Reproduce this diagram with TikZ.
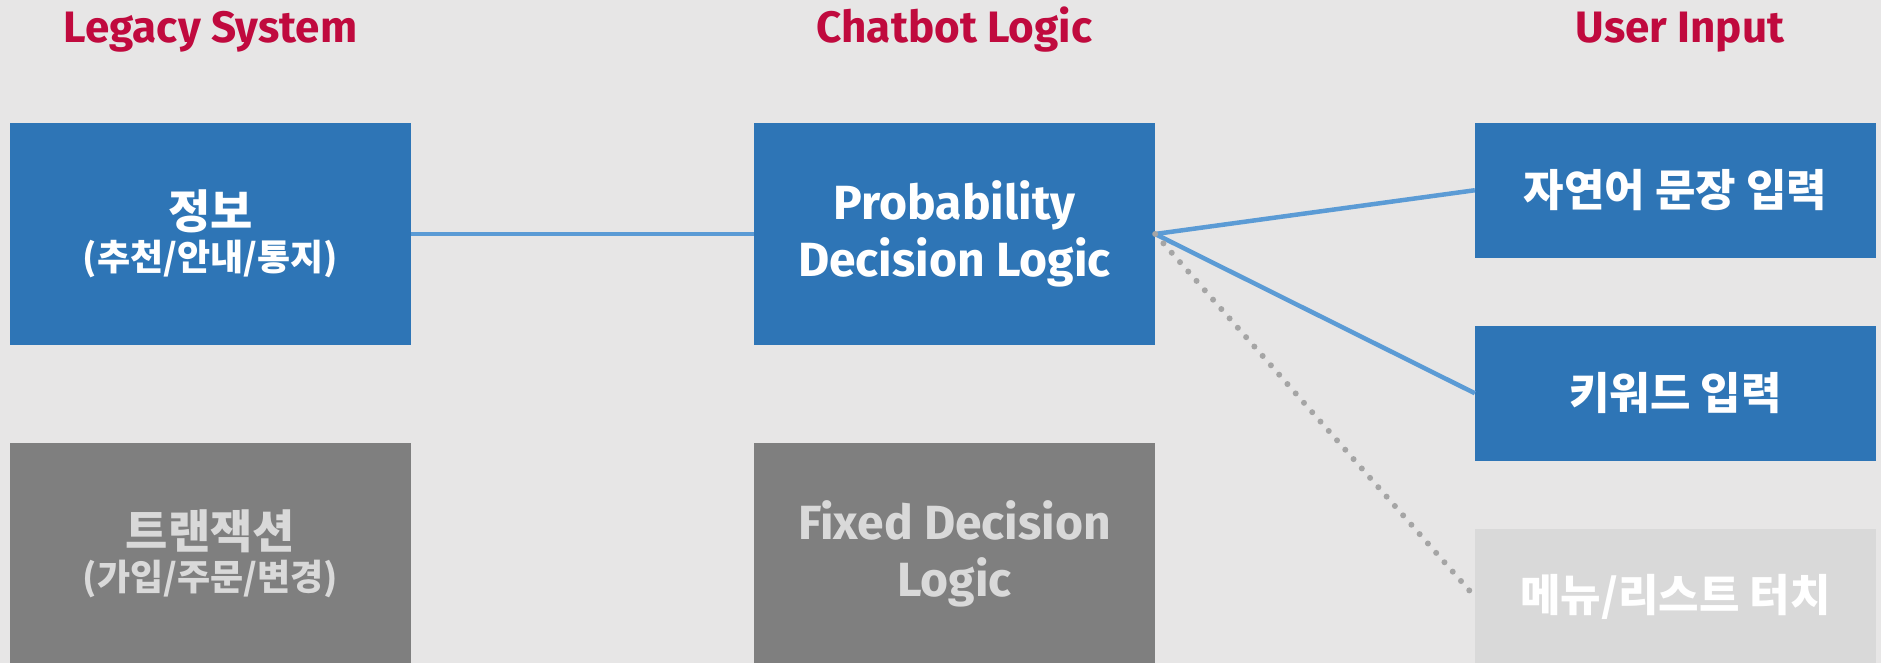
\documentclass[tikz,border=0pt]{standalone}
\usepackage{fontspec}
\setmainfont{Fira Sans}
\newfontfamily\kr{Noto Sans CJK KR}
\definecolor{bg}{HTML}{E7E6E6}
\definecolor{boxblue}{HTML}{2E75B6}
\definecolor{boxgray}{HTML}{7F7F7F}
\definecolor{boxlight}{HTML}{D9D9D9}
\definecolor{txtgray}{HTML}{D9D9D9}
\definecolor{lineblue}{HTML}{5B9BD5}
\definecolor{dotgray}{HTML}{A5A5A5}
\definecolor{titlered}{HTML}{C00A3E}
\begin{document}
\begin{tikzpicture}[x=1pt,y=-1pt,
  title/.style={anchor=base,text=titlered,font=\fontsize{44}{50}\selectfont\bfseries},
  bigbox/.style={minimum width=401pt,minimum height=221.6pt,inner sep=0pt,align=center},
  smallbox/.style={minimum width=401pt,minimum height=134.5pt,inner sep=0pt,align=center},
  active/.style={fill=boxblue,text=white},
  inactive/.style={fill=boxgray,text=txtgray},
  faded/.style={fill=boxlight,text=white},
  entxt/.style={font=\fontsize{48}{57}\selectfont\bfseries},
  krtxt/.style={font=\kr\fontsize{44}{48}\selectfont\bfseries},
  conn/.style={draw=lineblue,line width=4.5pt},
  dotconn/.style={draw=dotgray,line width=6pt,line cap=round,dash pattern=on 0pt off 12.5pt}]
\fill[bg] (0,0) rectangle (1881,663);
\useasboundingbox (0,0) rectangle (1881,663);
\node[title] (t1) at (210.5,43) {Legacy System};
\node[title] (t2) at (954.5,43) {Chatbot Logic};
\node[title] (t3) at (1680,43) {User Input};

\node[bigbox,active] (L1) at (210.5,234) {{\kr\bfseries\fontsize{46}{48}\selectfont 정보}\\[6pt]{\kr\bfseries\fontsize{36}{40}\selectfont (추천/안내/통지)}};
\node[bigbox,inactive] (L2) at (210.5,553.8) {{\kr\bfseries\fontsize{46}{48}\selectfont 트랜잭션}\\[6pt]{\kr\bfseries\fontsize{36}{40}\selectfont (가입/주문/변경)}};
\node[bigbox,active,entxt] (M1) at (954.5,234) {Probability\\Decision Logic};
\node[bigbox,inactive,entxt] (M2) at (954.5,553.8) {Fixed Decision\\Logic};
\node[smallbox,active,krtxt] (R1) at (1675.5,190.25) {자연어 문장 입력};
\node[smallbox,active,krtxt] (R2) at (1675.5,393.25) {키워드 입력};
\node[smallbox,faded,krtxt] (R3) at (1675.5,596.7) {메뉴/리스트 터치};

\draw[conn] (L1.east) -- (M1.west);
\draw[conn] (M1.east) -- (R1.west);
\draw[conn] (M1.east) -- (R2.west);
\draw[dotconn] (M1.east) -- (R3.west);
\end{tikzpicture}
\end{document}
